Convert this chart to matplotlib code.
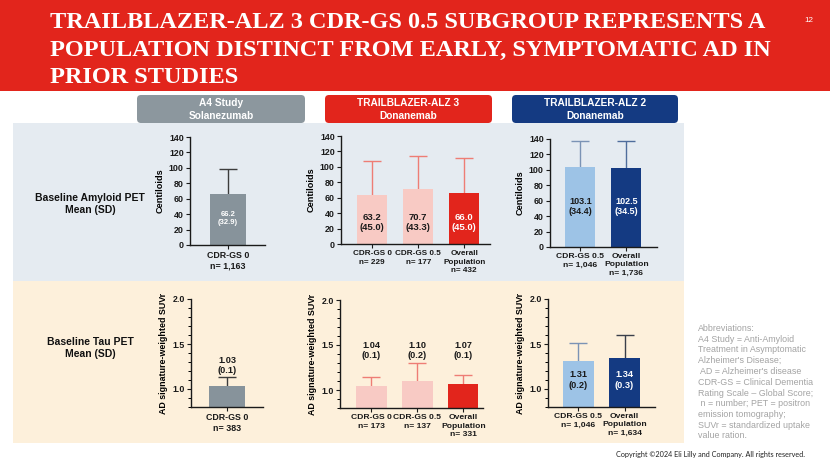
import matplotlib
matplotlib.use("Agg")
import matplotlib.pyplot as plt
from matplotlib.patches import Rectangle, FancyBboxPatch
from matplotlib.ticker import MultipleLocator

# ---------------- data ----------------
a4_groups = ["CDR-GS 0"]
a4_amy_n = ["1,163"]
a4_amy_mean = [66.2]
a4_amy_sd = [32.9]
a4_tau_n = ["383"]
a4_tau_mean = [1.03]
a4_tau_sd = [0.1]

tb3_groups = ["CDR-GS 0", "CDR-GS 0.5", "Overall\nPopulation"]
tb3_amy_n = ["229", "177", "432"]
tb3_amy_mean = [63.2, 70.7, 66.0]
tb3_amy_sd = [45.0, 43.3, 45.0]
tb3_tau_n = ["173", "137", "331"]
tb3_tau_mean = [1.04, 1.10, 1.07]
tb3_tau_sd = [0.1, 0.2, 0.1]

tb2_groups = ["CDR-GS 0.5", "Overall\nPopulation"]
tb2_amy_n = ["1,046", "1,736"]
tb2_amy_mean = [103.1, 102.5]
tb2_amy_sd = [34.4, 34.5]
tb2_tau_n = ["1,046", "1,634"]
tb2_tau_mean = [1.31, 1.34]
tb2_tau_sd = [0.2, 0.26]

amy_ticks = [0, 20, 40, 60, 80, 100, 120, 140]
tau_ticks = [1.0, 1.5, 2.0]

title_lines = ["TRAILBLAZER-ALZ 3 CDR-GS 0.5 SUBGROUP REPRESENTS A",
               "POPULATION DISTINCT FROM EARLY, SYMPTOMATIC AD IN",
               "PRIOR STUDIES"]
study_headers = ["A4 Study\nSolanezumab", "TRAILBLAZER-ALZ 3\nDonanemab",
                 "TRAILBLAZER-ALZ 2\nDonanemab"]
row_labels = ["Baseline Amyloid PET\nMean (SD)", "Baseline Tau PET\nMean (SD)"]
abbrev = ("Abbreviations:\nA4 Study = Anti-Amyloid\nTreatment in Asymptomatic\n"
          "Alzheimer's Disease;\n AD = Alzheimer's disease\nCDR-GS = Clinical Dementia\n"
          "Rating Scale \u2013 Global Score;\n n = number; PET = positron\n"
          "emission tomography;\nSUVr = standardized uptake\nvalue ration.")

# ---------------- style ----------------
RED = "#e2251c"
GREY = "#87939b"
PINK = "#f8cac4"
LBLUE = "#9dc3e6"
NAVY = "#143a82"
PANEL_BLUE = "#e5ebf1"
PANEL_BEIGE = "#fdf0db"
SANS = ["Liberation Sans", "DejaVu Sans"]

W, H = 830, 468
fig = plt.figure(figsize=(W / 100, H / 100), dpi=100)
fig.patch.set_facecolor("white")


def rect(x0, y0, x1, y1):
    return [x0 / W, 1 - y1 / H, (x1 - x0) / W, (y1 - y0) / H]


bg = fig.add_axes([0, 0, 1, 1], zorder=0)
bg.set_xlim(0, W)
bg.set_ylim(H, 0)
bg.axis("off")

# header band
bg.add_patch(Rectangle((0, 0), W, 91, color=RED, lw=0))
for i, line in enumerate(title_lines):
    bg.text(50, 28 + 27.5 * i, line, color="white", fontsize=17.5,
            family=["Liberation Serif", "DejaVu Serif"], weight="bold",
            va="baseline", ha="left")
bg.text(809, 20, "12", color="white", fontsize=5.8, family=SANS,
        ha="center", va="center")

# panels
bg.add_patch(Rectangle((13, 123), 671, 158, color=PANEL_BLUE, lw=0))
bg.add_patch(Rectangle((13, 281), 671, 162, color=PANEL_BEIGE, lw=0))

# study header boxes
for (x0, x1), col, txt in zip([(137, 305), (325, 492), (512, 678)],
                              ["#8c979e", RED, NAVY], study_headers):
    bg.add_patch(FancyBboxPatch((x0, 95), x1 - x0, 28,
                                boxstyle="round,pad=0,rounding_size=4",
                                color=col, lw=0))
    bg.text((x0 + x1) / 2, 109.5, txt, color="white", fontsize=7.3,
            weight="bold", family=SANS, ha="center", va="center",
            linespacing=1.35)

# row labels
for y, txt in zip([204, 348], row_labels):
    bg.text(90, y, txt, fontsize=7.5, weight="bold", family=SANS,
            ha="center", va="center", linespacing=1.15, color="#111111")

bg.text(698, 324, abbrev, fontsize=6.4, family=SANS, color="#a3a3a3",
        ha="left", va="top", linespacing=1.25)
bg.text(805, 455, "Copyright \u00a92024 Eli Lilly and Company. All rights reserved.",
        fontsize=5.2, family=["Lato", "DejaVu Sans"], color="#222222",
        ha="right", va="center")


def panel(box, groups, ns, means, sds, colors, ecolors, tcolors, xlim,
          label_y, fs, tau, xfs):
    ax = fig.add_axes(rect(*box), zorder=2)
    ax.patch.set_alpha(0)
    x = list(range(len(means)))
    base = 0.8 if tau else 0.0
    ax.bar(x, [m - base for m in means], bottom=base, width=0.66,
           color=colors, zorder=2, lw=0)
    for xi, m, s, ec in zip(x, means, sds, ecolors):
        eb = ax.errorbar([xi], [m], yerr=[[0], [s]], fmt="none", ecolor=ec,
                         elinewidth=1.0, capsize=6.8, capthick=1.0, zorder=1)
        eb[1][0].set_visible(False)  # hide the lower cap (one-sided SD)
    for xi, m, s, tc in zip(x, means, sds, tcolors):
        txt = (f"{m:.2f}\n({s:.1f})" if tau else f"{m:.1f}\n({s:.1f})")
        ax.text(xi, label_y, txt, ha="center", va="center", fontsize=fs,
                weight="bold", family=SANS, color=tc, linespacing=1.15,
                zorder=3)
    ax.set_xlim(*xlim)
    ax.set_xticks(x)
    ax.set_xticklabels([f"{g}\nn= {n}" for g, n in zip(groups, ns)],
                       fontsize=xfs, weight="bold", family=SANS,
                       linespacing=1.25)
    if tau:
        ax.set_ylim(0.8, 2.0)
        ax.set_yticks(tau_ticks)
        ax.set_yticklabels([f"{t:.1f}" for t in tau_ticks])
        ax.yaxis.set_minor_locator(MultipleLocator(0.1))
        ax.set_ylabel("AD signature-weighted SUVr", fontsize=6.4,
                      weight="bold", family=SANS, labelpad=3)
    else:
        ax.set_ylim(0, 140)
        ax.set_yticks(amy_ticks)
        ax.set_yticklabels([str(t) for t in amy_ticks])
        ax.set_ylabel("Centiloids", fontsize=6.6, weight="bold",
                      family=SANS, labelpad=3)
    for lab in ax.get_yticklabels():
        lab.set_fontweight("bold")
        lab.set_fontsize(6.4)
        lab.set_family(SANS)
    for sp in ["top", "right"]:
        ax.spines[sp].set_visible(False)
    for sp in ["left", "bottom"]:
        ax.spines[sp].set_linewidth(1.0)
        ax.spines[sp].set_color("#1a1a1a")
    ax.tick_params(axis="both", which="major", direction="out", length=3,
                   width=0.8, pad=1.5, colors="#1a1a1a")
    ax.tick_params(axis="y", which="minor", direction="out", length=2,
                   width=0.7)
    return ax


DARK = "#1a1a1a"
# amyloid row
panel((190, 137, 265, 245), a4_groups, a4_amy_n, a4_amy_mean, a4_amy_sd,
      [GREY], ["#3c3c3c"], ["white"], (-0.70, 0.68), 34, 5.5, False, 6.4)
panel((341, 136, 490, 244), tb3_groups, tb3_amy_n, tb3_amy_mean, tb3_amy_sd,
      [PINK, PINK, RED], ["#ee7d75"] * 3, [DARK, DARK, "white"],
      (-0.68, 2.56), 28, 6.8, False, 5.9)
panel((550, 139, 657, 247), tb2_groups, tb2_amy_n, tb2_amy_mean, tb2_amy_sd,
      [LBLUE, NAVY], ["#7b93b5", "#4f6d9c"], [DARK, "white"],
      (-0.66, 1.67), 53, 6.5, False, 6.1)
# tau row
panel((191, 299, 263, 407), a4_groups, a4_tau_n, a4_tau_mean, a4_tau_sd,
      [GREY], ["#3c3c3c"], [DARK], (-0.66, 0.66), 1.26, 6.6, True, 6.4)
panel((340, 300, 483, 408), tb3_groups, tb3_tau_n, tb3_tau_mean, tb3_tau_sd,
      [PINK, PINK, RED], ["#ee7d75"] * 3, [DARK, DARK, DARK],
      (-0.685, 2.43), 1.44, 6.6, True, 6.1)
panel((548, 299, 655, 407), tb2_groups, tb2_tau_n, tb2_tau_mean, tb2_tau_sd,
      [LBLUE, NAVY], ["#7b93b5", "#3a3f4a"], [DARK, "white"],
      (-0.66, 1.66), 1.10, 6.6, True, 6.1)

fig.savefig("out.png", dpi=100)
